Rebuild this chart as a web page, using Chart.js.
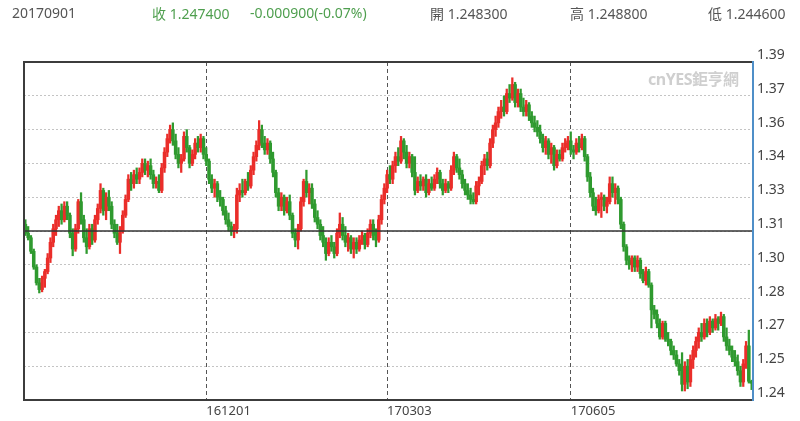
<!DOCTYPE html>
<html>
<head>
<meta charset="utf-8">
<script src="https://cdn.jsdelivr.net/npm/chart.js@4"></script>
<style>
  body { margin: 0; background: #fff; }
  #wrap { position: relative; width: 800px; height: 421px; font-family: 'Noto Sans', 'Noto Sans CJK TC', sans-serif; }
  .hd { position: absolute; top: 3px; font-size: 14px; white-space: nowrap; color: #555; }
  .up { color: #4f9f4f; }
  #mark { position: absolute; left: 648px; top: 66px; font-size: 16px; font-weight: bold; color: #cfcfcf; letter-spacing: -0.5px; }
</style>
</head>
<body>
<div id="wrap">
  <canvas id="chart" width="800" height="421"></canvas>
  <div class="hd" style="left:12px">20170901</div>
  <div class="hd up" style="left:152px">收 1.247400</div>
  <div class="hd up" style="left:250px">-0.000900(-0.07%)</div>
  <div class="hd" style="left:430px">開 1.248300</div>
  <div class="hd" style="left:570px">高 1.248800</div>
  <div class="hd" style="left:708px">低 1.244600</div>
  <div id="mark">cnYES鉅亨網</div>
</div>
<script>
// daily bars, 2016-09-01 .. 2017-09-01
const opens = [
  1.318,1.314,1.312,1.306,1.299,1.292,1.289,1.294,1.297,1.303,
  1.310,1.316,1.320,1.324,1.320,1.326,1.322,1.314,1.307,1.316,
  1.328,1.320,1.312,1.308,1.316,1.311,1.320,1.325,1.333,1.324,
  1.330,1.326,1.318,1.314,1.310,1.315,1.322,1.329,1.338,1.336,
  1.340,1.338,1.341,1.345,1.342,1.344,1.340,1.336,1.337,1.333,
  1.343,1.350,1.356,1.360,1.355,1.349,1.345,1.347,1.357,1.352,
  1.345,1.349,1.354,1.352,1.356,1.349,1.346,1.338,1.334,1.336,
  1.330,1.329,1.324,1.320,1.317,1.315,1.316,1.331,1.333,1.332,
  1.337,1.335,1.342,1.348,1.353,1.360,1.354,1.351,1.354,1.347,
  1.341,1.332,1.326,1.330,1.324,1.328,1.322,1.314,1.311,1.316,
  1.328,1.337,1.332,1.334,1.327,1.321,1.318,1.313,1.310,1.305,
  1.310,1.308,1.305,1.314,1.318,1.313,1.310,1.312,1.307,1.310,
  1.307,1.311,1.313,1.309,1.314,1.318,1.313,1.311,1.320,1.329,
  1.334,1.340,1.338,1.344,1.348,1.346,1.355,1.350,1.345,1.348,
  1.341,1.333,1.337,1.335,1.338,1.332,1.336,1.334,1.338,1.341,
  1.336,1.333,1.336,1.334,1.342,1.348,1.343,1.340,1.336,1.333,
  1.331,1.329,1.328,1.335,1.337,1.344,1.347,1.344,1.354,1.360,
  1.363,1.368,1.370,1.368,1.376,1.374,1.380,1.372,1.376,1.370,
  1.368,1.371,1.366,1.363,1.361,1.359,1.356,1.352,1.355,1.349,
  1.352,1.344,1.349,1.347,1.352,1.354,1.355,1.351,1.350,1.354,
  1.352,1.356,1.348,1.339,1.332,1.326,1.324,1.329,1.330,1.326,
  1.328,1.336,1.332,1.334,1.329,1.318,1.308,1.302,1.300,1.303,
  1.299,1.302,1.296,1.293,1.297,1.291,1.280,1.278,1.274,1.268,
  1.274,1.267,1.266,1.262,1.260,1.256,1.253,1.247,1.255,1.248,
  1.258,1.262,1.266,1.270,1.268,1.274,1.270,1.275,1.272,1.276,
  1.274,1.277,1.268,1.264,1.262,1.259,1.257,1.253,1.248,1.256,
  1.264,1.2483
];
const highs = [
  1.320,1.317,1.313,1.307,1.300,1.294,1.295,1.298,1.305,1.312,
  1.318,1.322,1.326,1.327,1.328,1.328,1.323,1.316,1.318,1.329,
  1.332,1.322,1.316,1.318,1.318,1.322,1.327,1.336,1.334,1.332,
  1.333,1.328,1.320,1.318,1.317,1.324,1.331,1.340,1.341,1.342,
  1.343,1.343,1.347,1.347,1.346,1.347,1.342,1.339,1.340,1.345,
  1.352,1.358,1.362,1.363,1.358,1.352,1.349,1.359,1.360,1.353,
  1.351,1.356,1.357,1.358,1.357,1.352,1.347,1.340,1.338,1.337,
  1.333,1.330,1.326,1.323,1.319,1.318,1.334,1.336,1.338,1.338,
  1.341,1.344,1.350,1.355,1.364,1.362,1.357,1.356,1.355,1.350,
  1.342,1.334,1.332,1.331,1.330,1.331,1.323,1.316,1.318,1.330,
  1.338,1.342,1.336,1.336,1.329,1.324,1.320,1.317,1.312,1.312,
  1.313,1.310,1.316,1.323,1.321,1.317,1.314,1.313,1.312,1.312,
  1.313,1.315,1.314,1.316,1.320,1.320,1.316,1.322,1.331,1.336,
  1.342,1.344,1.346,1.350,1.352,1.357,1.356,1.353,1.350,1.349,
  1.348,1.339,1.340,1.339,1.340,1.338,1.339,1.340,1.343,1.342,
  1.338,1.338,1.337,1.344,1.350,1.349,1.347,1.342,1.338,1.336,
  1.334,1.332,1.337,1.339,1.346,1.349,1.350,1.356,1.362,1.366,
  1.370,1.373,1.375,1.378,1.380,1.383,1.381,1.378,1.378,1.374,
  1.373,1.372,1.368,1.366,1.364,1.362,1.358,1.357,1.356,1.354,
  1.353,1.351,1.351,1.354,1.356,1.357,1.359,1.353,1.356,1.357,
  1.358,1.357,1.349,1.341,1.334,1.330,1.331,1.332,1.331,1.330,
  1.339,1.339,1.336,1.335,1.330,1.319,1.309,1.304,1.304,1.304,
  1.304,1.303,1.298,1.299,1.298,1.292,1.282,1.280,1.276,1.275,
  1.275,1.270,1.267,1.264,1.262,1.258,1.261,1.257,1.258,1.260,
  1.264,1.268,1.272,1.274,1.276,1.276,1.277,1.276,1.278,1.277,
  1.279,1.278,1.272,1.267,1.264,1.262,1.260,1.255,1.258,1.266,
  1.271,1.2488
];
const lows = [
  1.313,1.311,1.305,1.298,1.291,1.2875,1.288,1.290,1.296,1.301,
  1.308,1.313,1.317,1.318,1.319,1.320,1.312,1.304,1.306,1.314,
  1.318,1.310,1.305,1.307,1.309,1.310,1.318,1.323,1.322,1.320,
  1.324,1.316,1.312,1.309,1.305,1.314,1.321,1.328,1.333,1.334,
  1.336,1.336,1.339,1.340,1.339,1.338,1.334,1.334,1.332,1.332,
  1.341,1.348,1.354,1.353,1.347,1.343,1.341,1.346,1.350,1.343,
  1.344,1.347,1.350,1.350,1.347,1.344,1.336,1.332,1.330,1.328,
  1.326,1.322,1.318,1.315,1.313,1.312,1.314,1.328,1.330,1.331,
  1.333,1.334,1.340,1.346,1.351,1.352,1.349,1.349,1.345,1.339,
  1.330,1.324,1.324,1.322,1.323,1.320,1.312,1.308,1.307,1.315,
  1.326,1.330,1.327,1.325,1.319,1.316,1.311,1.308,1.302,1.304,
  1.306,1.303,1.304,1.312,1.311,1.308,1.306,1.305,1.303,1.305,
  1.306,1.309,1.307,1.308,1.312,1.311,1.308,1.310,1.318,1.327,
  1.332,1.336,1.336,1.341,1.344,1.345,1.347,1.343,1.343,1.339,
  1.331,1.332,1.333,1.333,1.330,1.331,1.333,1.333,1.336,1.334,
  1.331,1.332,1.332,1.333,1.340,1.341,1.338,1.334,1.331,1.329,
  1.327,1.327,1.327,1.331,1.336,1.340,1.342,1.343,1.352,1.357,
  1.361,1.365,1.366,1.367,1.372,1.373,1.370,1.370,1.368,1.366,
  1.366,1.364,1.361,1.359,1.357,1.354,1.350,1.349,1.347,1.345,
  1.342,1.343,1.346,1.346,1.350,1.351,1.349,1.347,1.349,1.350,
  1.351,1.346,1.337,1.330,1.324,1.322,1.323,1.321,1.324,1.323,
  1.327,1.330,1.327,1.327,1.316,1.306,1.300,1.298,1.297,1.297,
  1.297,1.294,1.292,1.291,1.290,1.272,1.276,1.272,1.267,1.267,
  1.266,1.264,1.260,1.258,1.255,1.251,1.244,1.244,1.245,1.246,
  1.254,1.259,1.263,1.266,1.267,1.268,1.269,1.270,1.271,1.271,
  1.273,1.266,1.262,1.260,1.257,1.255,1.251,1.246,1.246,1.254,
  1.2475,1.2446
];
const closes = [
  1.314,1.312,1.306,1.299,1.292,1.289,1.294,1.297,1.303,1.310,
  1.316,1.320,1.324,1.320,1.326,1.322,1.314,1.307,1.316,1.328,
  1.320,1.312,1.308,1.316,1.311,1.320,1.325,1.333,1.324,1.330,
  1.326,1.318,1.314,1.310,1.315,1.322,1.329,1.338,1.336,1.340,
  1.338,1.341,1.345,1.342,1.344,1.340,1.336,1.337,1.333,1.343,
  1.350,1.356,1.360,1.355,1.349,1.345,1.347,1.357,1.352,1.345,
  1.349,1.354,1.352,1.356,1.349,1.346,1.338,1.334,1.336,1.330,
  1.329,1.324,1.320,1.317,1.315,1.316,1.331,1.333,1.332,1.337,
  1.335,1.342,1.348,1.353,1.360,1.354,1.351,1.354,1.347,1.341,
  1.332,1.326,1.330,1.324,1.328,1.322,1.314,1.311,1.316,1.328,
  1.337,1.332,1.334,1.327,1.321,1.318,1.313,1.310,1.305,1.310,
  1.308,1.305,1.314,1.318,1.313,1.310,1.312,1.307,1.310,1.307,
  1.311,1.313,1.309,1.314,1.318,1.313,1.311,1.320,1.329,1.334,
  1.340,1.338,1.344,1.348,1.346,1.355,1.350,1.345,1.348,1.341,
  1.333,1.337,1.335,1.338,1.332,1.336,1.334,1.338,1.341,1.336,
  1.333,1.336,1.334,1.342,1.348,1.343,1.340,1.336,1.333,1.331,
  1.329,1.328,1.335,1.337,1.344,1.347,1.344,1.354,1.360,1.363,
  1.368,1.370,1.368,1.376,1.374,1.380,1.372,1.376,1.370,1.368,
  1.371,1.366,1.363,1.361,1.359,1.356,1.352,1.355,1.349,1.352,
  1.344,1.349,1.347,1.352,1.354,1.355,1.351,1.350,1.354,1.352,
  1.356,1.348,1.339,1.332,1.326,1.324,1.329,1.330,1.326,1.328,
  1.336,1.332,1.334,1.329,1.318,1.308,1.302,1.300,1.303,1.299,
  1.302,1.296,1.293,1.297,1.291,1.280,1.278,1.274,1.268,1.274,
  1.267,1.266,1.262,1.260,1.256,1.253,1.247,1.255,1.248,1.258,
  1.262,1.266,1.270,1.268,1.274,1.270,1.275,1.272,1.276,1.274,
  1.277,1.268,1.264,1.262,1.259,1.257,1.253,1.248,1.256,1.264,
  1.2483,1.2474
];

// reference level drawn as the solid horizontal line
const refLevel = 1.315;

// axis ticks
const xTickIdx = [65, 130, 196];
const xTickLabels = ['161201', '170303', '170605'];
const yTicks = [1.24, 1.255, 1.27, 1.285, 1.30, 1.315, 1.33, 1.345, 1.36, 1.375, 1.39];
const yTickLabels = ['1.24', '1.25', '1.27', '1.28', '1.30', '1.31', '1.33', '1.34', '1.36', '1.37', '1.39'];

const RED = '#ea2e2a';
const GREEN = '#2f9a2f';

const idx = closes.map((_, i) => i);
const barColors = idx.map(i => (closes[i] >= opens[i] ? RED : GREEN));

// plot frame: dark on left/top/bottom, blue on the right
const framePlugin = {
  id: 'frame',
  afterDatasetsDraw(chart) {
    const { ctx, chartArea: a } = chart;
    ctx.save();
    ctx.lineWidth = 2;
    ctx.strokeStyle = '#3c3c3c';
    ctx.beginPath();
    ctx.moveTo(a.right, a.top);
    ctx.lineTo(a.left, a.top);
    ctx.lineTo(a.left, a.bottom);
    ctx.lineTo(a.right, a.bottom);
    ctx.stroke();
    ctx.strokeStyle = '#4f8fc8';
    ctx.beginPath();
    ctx.moveTo(a.right, a.top - 1);
    ctx.lineTo(a.right, a.bottom + 1);
    ctx.stroke();
    ctx.restore();
  }
};

new Chart(document.getElementById('chart'), {
  type: 'bar',
  data: {
    datasets: [
      {
        type: 'line',
        data: [{ x: -0.5, y: refLevel }, { x: closes.length - 0.5, y: refLevel }],
        borderColor: '#333',
        borderWidth: 1.5,
        pointRadius: 0,
        order: 0
      },
      {
        data: idx.map(i => ({ x: i, y: [lows[i], highs[i]] })),
        backgroundColor: barColors,
        barThickness: 1.6,
        grouped: false,
        order: 1
      },
      {
        data: idx.map(i => ({ x: i, y: [opens[i], closes[i]] })),
        backgroundColor: barColors,
        barThickness: 2.9,
        minBarLength: 1,
        grouped: false,
        order: 1
      }
    ]
  },
  options: {
    responsive: false,
    animation: false,
    layout: { padding: { top: 62, left: 24, right: 0, bottom: 0 } },
    plugins: { legend: { display: false }, tooltip: { enabled: false } },
    scales: {
      x: {
        type: 'linear',
        offset: false,
        min: -0.5,
        max: closes.length - 0.5,
        afterBuildTicks: s => { s.ticks = xTickIdx.map(v => ({ value: v })); },
        afterFit: s => { s.height = 21; },
        grid: { offset: false, color: '#555', lineWidth: 1, drawTicks: false },
        border: { display: false, dash: [4, 3] },
        ticks: {
          align: 'start',
          padding: 3,
          color: '#444',
          maxRotation: 0,
          autoSkip: false,
          font: { family: "'Noto Sans', sans-serif", size: 13 },
          callback: (v, i) => xTickLabels[i]
        }
      },
      y: {
        position: 'right',
        min: 1.24,
        max: 1.39,
        afterBuildTicks: s => { s.ticks = yTicks.map(v => ({ value: v })); },
        afterFit: s => { s.width = 47; },
        grid: { color: '#c4c4c4', lineWidth: 1, drawTicks: false },
        border: { display: false, dash: [2, 2] },
        ticks: {
          padding: 4,
          color: '#444',
          font: { family: "'Noto Sans', sans-serif", size: 14, lineHeight: 1 },
          callback: (v, i) => [yTickLabels[i], '']
        }
      }
    }
  },
  plugins: [framePlugin]
});
</script>
</body>
</html>
